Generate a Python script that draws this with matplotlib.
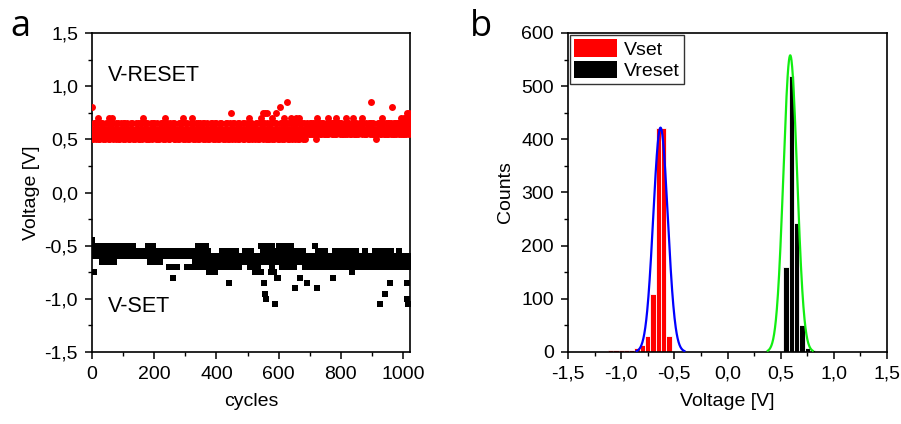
import numpy as np
import matplotlib
matplotlib.use("Agg")
import matplotlib.pyplot as plt
from matplotlib.patches import Patch
from matplotlib.ticker import MultipleLocator, FuncFormatter

plt.rcParams["font.family"] = ["Liberation Sans", "DejaVu Sans"]
plt.rcParams["axes.unicode_minus"] = False

# --- panel a: switching voltages per cycle ---
# main band read every 2 cycles; one row = 8 groups of 4 samples = 64 cycles
CYCLE_STEP = 2
# V-RESET band: 0.50 + 0.05 * digit
reset_rows = [
    "2013 1302 3120 0231 3102 2031 1230 0312",
    "3021 1203 2310 0132 2103 3012 1320 0213",
    "3201 1032 2130 0321 3012 1230 2301 0123",
    "2031 3120 1302 0213 3102 2013 1320 0231",
    "2130 3021 1203 0312 2301 1032 3210 0123",
    "3102 2013 1230 0321 2103 3012 1320 0213",
    "1302 2031 3120 0231 3201 1023 2310 0132",
    "2013 3102 1230 0321 2130 3012 1302 0213",
    "3021 1203 2310 0132 2103 3210 1320 0231",
    "2301 1032 3120 0213 3102 2031 1230 0312",
    "3012 1203 2130 0321 2310 3120 1322 2131",
    "3213 1232 0123 2313 1322 3121 2132 1323",
    "2131 3212 1323 2313 3122 1231 2313 3212",
    "1323 2131 3122 1233 2312 3211 1322 2313",
    "2312 3121 0123 2313 1232 3121 2313 1322",
    "3121 2313 1232 3212 2131 3213 1322 2313",
]
# points above / outside the band
reset_extra_cycles = [0, 20, 56, 64, 164, 236, 292, 320, 448, 504,
                      544, 548, 556, 564, 580, 592, 604, 616, 628, 640,
                      656, 664, 724, 760, 784, 816, 840, 868, 896, 932,
                      964, 992, 1004, 1010, 1012, 1016, 1018]
reset_extra_volts = [0.80, 0.70, 0.70, 0.70, 0.70, 0.70, 0.70, 0.70, 0.75, 0.70,
                     0.70, 0.75, 0.75, 0.75, 0.70, 0.75, 0.80, 0.70, 0.85, 0.70,
                     0.70, 0.70, 0.70, 0.70, 0.70, 0.70, 0.70, 0.70, 0.85, 0.70,
                     0.80, 0.70, 0.70, 0.70, 0.75, 0.70, 0.75]

# V-SET band: -0.45 - 0.05 * digit
set_rows = [
    "0123 3212 1323 2131 3212 1323 2132 3121",
    "2313 1232 3121 2313 1323 3212 2131 1323",
    "2312 3232 2323 3232 2323 3223 3212 1323",
    "2312 3223 2332 3223 2332 3232 2323 3232",
    "3223 2332 3232 2323 3223 2332 3232 2323",
    "3223 2342 4231 3142 2341 4231 3424 4334",
    "4334 3443 3434 4343 3242 4232 2434 4323",
    "3242 4323 2434 4334 3443 3423 2342 4232",
    "4334 3443 4334 3443 1342 2413 3124 4231",
    "3124 4232 2343 1342 2431 3142 4213 2341",
    "3242 4323 2434 3243 4342 3453 4334 3543",
    "4345 4331 3452 4345 3243 4352 3454 4353",
    "3545 4324 3453 4342 3534 4352 3443 4235",
    "3425 4353 3245 4534 3453 4325 3443 5434",
    "3453 4342 3534 4352 3443 4235 3425 4353",
    "3245 4534 3453 4325 3443 5434 3453 4345",
]
set_extra_cycles = [8, 32, 40, 56, 64, 72,
                    188, 200, 212, 220,
                    248, 260, 264, 272,
                    304, 312, 320, 328,
                    336, 344, 364, 372, 376,
                    392, 396, 404,
                    420, 432, 441, 444,
                    464, 472,
                    508, 520, 524, 532, 536, 544,
                    553, 556, 560,
                    576, 580, 584, 588,
                    594, 598,
                    612, 624, 636, 648,
                    653, 669, 690,
                    717, 722,
                    775, 836,
                    926, 942, 958,
                    1012, 1012, 1016]
set_extra_volts = [-0.75, -0.65, -0.65, -0.65, -0.65, -0.65,
                   -0.65, -0.65, -0.65, -0.65,
                   -0.70, -0.80, -0.70, -0.70,
                   -0.70, -0.70, -0.70, -0.70,
                   -0.70, -0.70, -0.70, -0.70, -0.75,
                   -0.70, -0.75, -0.70,
                   -0.70, -0.70, -0.85, -0.70,
                   -0.70, -0.70,
                   -0.70, -0.70, -0.75, -0.70, -0.75, -0.75,
                   -0.85, -0.95, -1.00,
                   -0.75, -0.70, -0.75, -1.05,
                   -0.80, -0.80,
                   -0.70, -0.70, -0.70, -0.70,
                   -0.90, -0.80, -0.85,
                   -0.50, -0.90,
                   -0.80, -0.75,
                   -1.05, -0.95, -0.85,
                   -0.85, -1.00, -1.05]

# --- panel b: histograms ---
vset_centers = [-1.1, -1.05, -1.0, -0.95, -0.9, -0.85, -0.8, -0.75, -0.7, -0.65, -0.6, -0.55]
vset_counts = [3, 3, 3, 3, 3, 7, 13, 31, 109, 422, 422, 30]
vreset_centers = [0.55, 0.6, 0.65, 0.7, 0.75, 0.8, 0.85]
vreset_counts = [160, 520, 242, 50, 8, 3, 2]
bin_width = 0.05

# gaussian fits (peak, centre, sigma)
vset_fit = (422, -0.63, 0.068)
vreset_fit = (558, 0.59, 0.064)

reset_levels = "".join(reset_rows).replace(" ", "")
set_levels = "".join(set_rows).replace(" ", "")
assert len(reset_levels) == len(set_levels) == 512
assert len(reset_extra_cycles) == len(reset_extra_volts)
assert len(set_extra_cycles) == len(set_extra_volts)

cycles_reset = np.r_[np.arange(len(reset_levels)) * CYCLE_STEP, reset_extra_cycles]
v_reset = np.r_[[0.50 + 0.05 * int(c) for c in reset_levels], reset_extra_volts]
cycles_set = np.r_[np.arange(len(set_levels)) * CYCLE_STEP, set_extra_cycles]
v_set = np.r_[[-0.45 - 0.05 * int(c) for c in set_levels], set_extra_volts]


def comma(v, _pos):
    if abs(v) < 1e-9:
        v = 0.0
    return f"{v:.1f}".replace(".", ",")


fig = plt.figure(figsize=(9.01, 4.24), dpi=100)
axa = fig.add_axes([92 / 901, 72 / 424, 318 / 901, 319 / 424])
axb = fig.add_axes([568 / 901, 72 / 424, 319 / 901, 319 / 424])

FS = 14
for ax in (axa, axb):
    for sp in ax.spines.values():
        sp.set_linewidth(1.2)
    ax.tick_params(which="major", direction="out", length=5, width=1.1,
                   labelsize=FS, pad=5)
    ax.tick_params(which="minor", direction="out", length=3, width=1.0)

# panel a
axa.scatter(cycles_reset, v_reset, s=25, c="red", marker="o", linewidths=0, zorder=3)
axa.scatter(cycles_set, v_set, s=16, c="black", marker="s", linewidths=0, zorder=3)
axa.set_xlim(0, 1022)
axa.set_ylim(-1.5, 1.5)
axa.xaxis.set_major_locator(MultipleLocator(200))
axa.xaxis.set_minor_locator(MultipleLocator(100))
axa.yaxis.set_major_locator(MultipleLocator(0.5))
axa.yaxis.set_minor_locator(MultipleLocator(0.25))
axa.yaxis.set_major_formatter(FuncFormatter(comma))
axa.set_xlabel("cycles", fontsize=FS, labelpad=7)
axa.set_ylabel("Voltage [V]", fontsize=FS, labelpad=3)
axa.text(51, 1.105, "V-RESET", fontsize=15.5, va="center", ha="left")
axa.text(51, -1.07, "V-SET", fontsize=15.5, va="center", ha="left")

# panel b
axb.bar(vset_centers, vset_counts, width=bin_width, color="red",
        edgecolor="white", linewidth=0.6, zorder=2)
axb.bar(vreset_centers, vreset_counts, width=bin_width, color="black",
        edgecolor="white", linewidth=0.6, zorder=2)

amp, mu, sig = vset_fit
xs = np.linspace(mu - 3.3 * sig, mu + 3.3 * sig, 200)
axb.plot(xs, amp * np.exp(-0.5 * ((xs - mu) / sig) ** 2), color="#0000ff", lw=1.6, zorder=3)
amp, mu, sig = vreset_fit
xs = np.linspace(mu - 3.3 * sig, mu + 3.3 * sig, 200)
axb.plot(xs, amp * np.exp(-0.5 * ((xs - mu) / sig) ** 2), color="#11ee11", lw=1.6, zorder=3)

axb.set_xlim(-1.5, 1.5)
axb.set_ylim(0, 600)
axb.xaxis.set_major_locator(MultipleLocator(0.5))
axb.xaxis.set_minor_locator(MultipleLocator(0.25))
axb.xaxis.set_major_formatter(FuncFormatter(comma))
axb.yaxis.set_major_locator(MultipleLocator(100))
axb.yaxis.set_minor_locator(MultipleLocator(50))
axb.set_xlabel("Voltage [V]", fontsize=FS, labelpad=7)
axb.set_ylabel("Counts", fontsize=FS, labelpad=5)

handles = [Patch(facecolor="red", edgecolor="none"), Patch(facecolor="black", edgecolor="none")]
leg = axb.legend(handles, ["Vset", "Vreset"], loc="upper left", fontsize=FS,
                 frameon=True, fancybox=False, borderaxespad=0.12, borderpad=0.2,
                 handlelength=2.2, handleheight=1.0, handletextpad=0.35,
                 labelspacing=0.1)
leg.get_frame().set_edgecolor("black")
leg.get_frame().set_linewidth(1.0)

fig.text(10 / 901, 1 - 36 / 424, "a", fontsize=26, family=["Open Sans", "DejaVu Sans"],
         va="baseline", ha="left")
fig.text(470 / 901, 1 - 36 / 424, "b", fontsize=26, family=["Open Sans", "DejaVu Sans"],
         va="baseline", ha="left")

fig.savefig("out.png", dpi=100)
